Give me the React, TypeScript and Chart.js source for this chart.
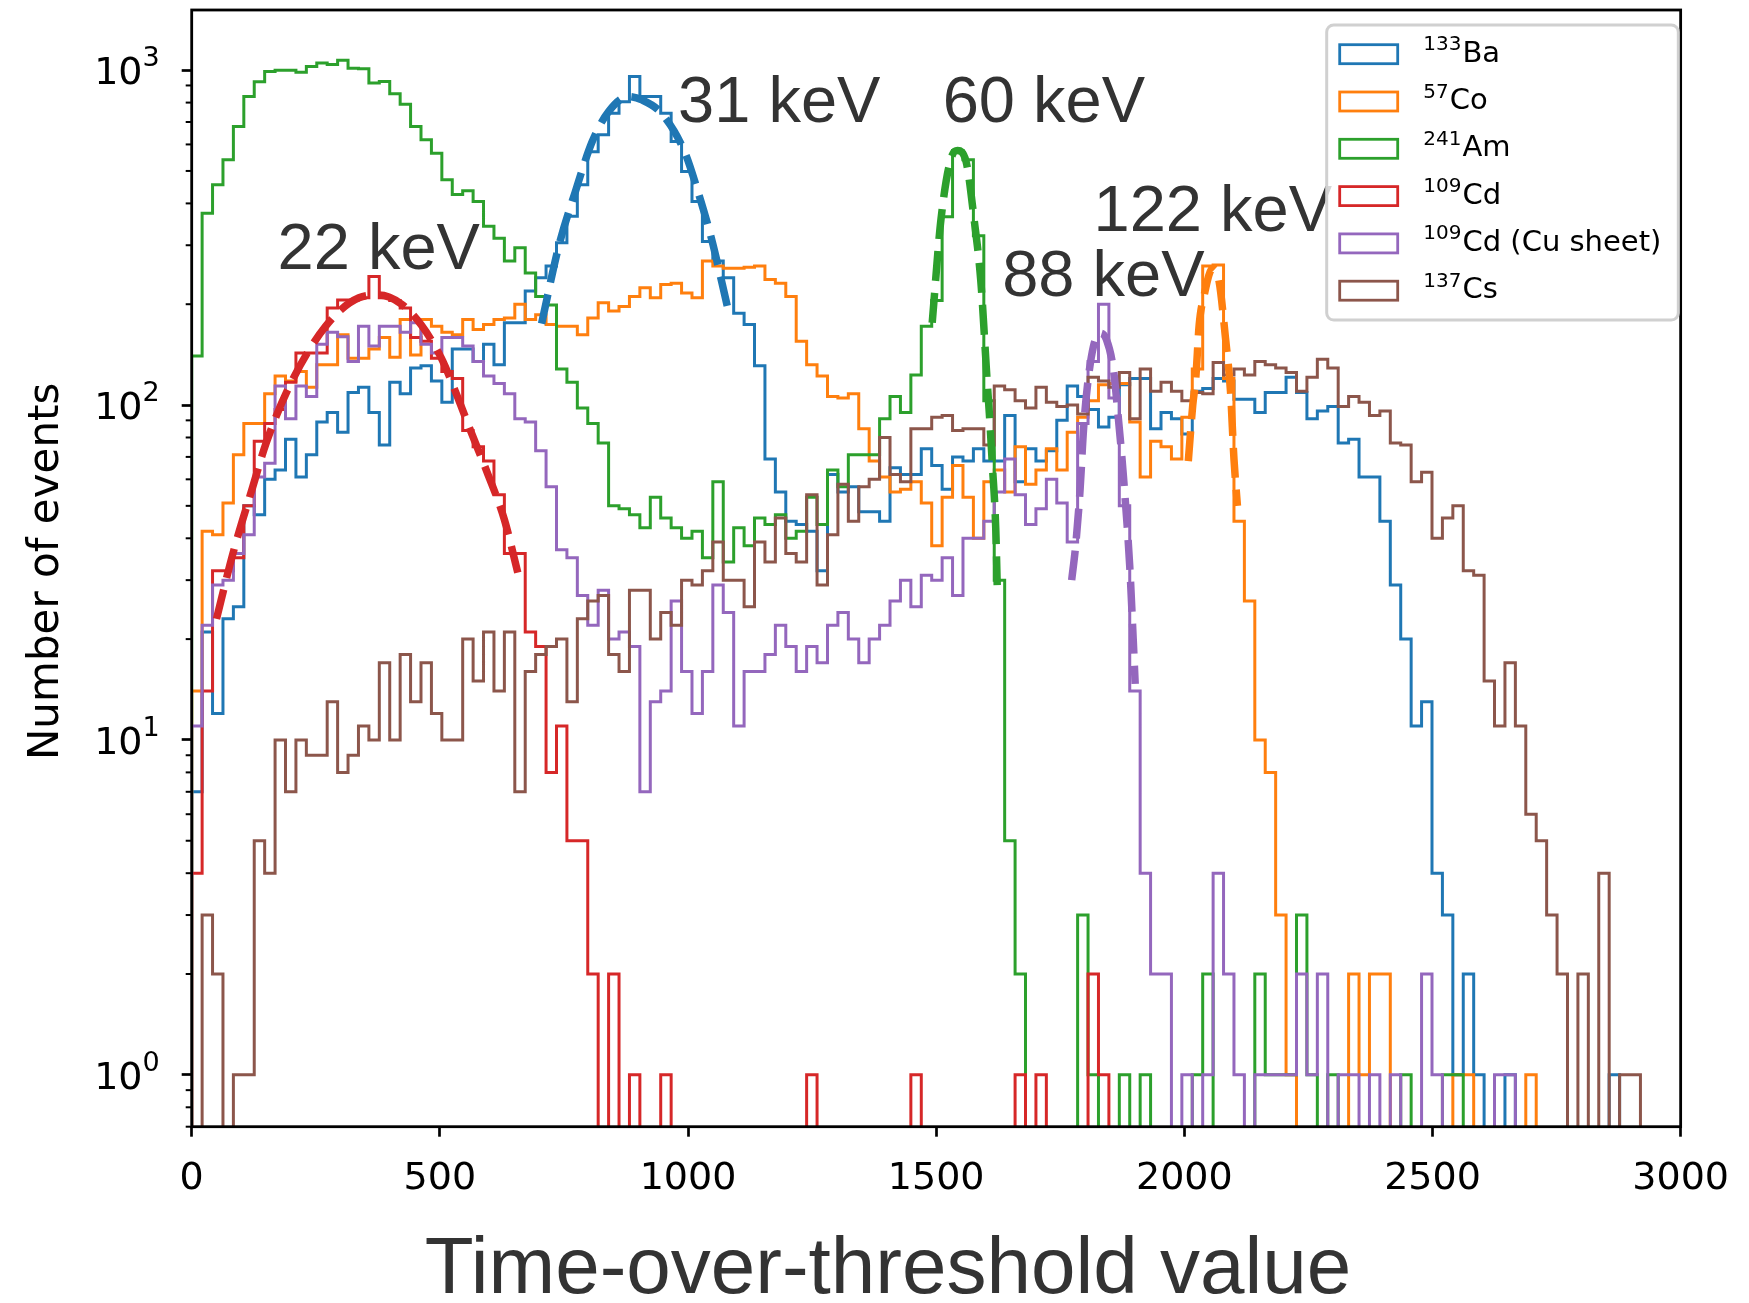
import React, { useEffect, useRef } from 'react';
import { Chart, registerables } from 'chart.js';

Chart.register(...registerables);

// ---------- data ----------
const BIN_WIDTH = 21; // time-over-threshold units per histogram bin (bins start at 0)

const ba133 = [7,21,12,23,25,50,47,60,64,79, 61,71,89,95,83,109,113,95,76,117, 108,129,131,118,102,147,147,135,152,132, 176,176,219,240,260,305,366,455,571,641, 743,805,957,834,834,743,612,498,405,308, 269,240,188,174,131,69,55,45,44,42, 32,62,55,57,48,48,45,65,62,62, 74,66,56,70,68,74,68,68,93,59, 74,68,73,90,114,106,97,86,92,115, 120,120,85,95,91,82,110,112,120,118, 104,104,95,109,109,121,109,91,96,99, 77,79,61,61,45,29,20,11,13,4, 3,1,2,1,0,0,1,0,0,0, 0,0,0,0,0,0,1,0,0,0];
const co57 = [14,42,41,51,71,88,88,108,122,118, 126,113,132,132,162,138,138,147,159,139, 180,141,180,172,165,162,180,168,174,180, 182,200,180,186,174,172,172,162,182,202, 191,197,211,224,209,229,231,216,209,269, 260,256,256,258,260,237,231,211,155,132, 122,106,105,108,85,68,61,55,56,59, 51,38,53,66,53,40,59,64,55,75, 58,64,74,64,83,92,103,115,116,116, 89,61,78,75,69,92,128,260,262,120, 45,26,10,8,3,1,0,0,0,0, 0,2,1,2,2,0,0,0,0,0, 0,1,1,0,0,0,0,0,1,0, 0,0,0,0,0,0,0,0,0,0];
const am241 = [140,374,455,540,679,834,924,990,1000,1000, 985,1025,1050,1040,1070,1013,1010,915,925,850, 791,679,620,565,471,425,436,405,342,315, 269,295,248,211,199,128,117,98,88,77, 50,49,47,43,53,46,43,40,42,35, 59,34,43,38,46,44,47,40,42,53, 44,64,57,71,71,71,91,106,95,123, 172,205,365,575,540,320,103,30,5,2, 0,0,0,0,0,3,1,0,0,1, 0,1,0,0,0,0,1,2,0,0, 0,0,2,1,1,1,3,1,0,1, 0,0,0,0,0,0,1,0,0,0, 1,1,0,0,0,0,0,0,0,0, 0,0,0,0,0,0,0,0,0,0];
const cd109 = [4,14,32,32,35,50,78,88,97,117, 143,143,143,195,206,206,209,242,209,205, 195,159,155,138,126,120,84,75,68,54, 36,36,21,19,8,11,5,5,2,0, 2,0,1,0,0,1,0,0,0,0, 0,0,0,0,0,0,0,0,0,1, 0,0,0,0,0,0,0,0,0,1, 0,0,0,0,0,0,0,0,0,1, 0,1,0,0,0,0,2,1,0,0, 0,0,0,0,0,0,0,0,0,0, 0,0,0,0,0,0,0,0,0,0, 0,0,0,0,0,0,0,0,0,0, 0,0,0,0,0,0,0,0,0,0, 0,0,0,0,0,0,0,0,0,0];
const cd109Cu = [11,22,29,30,36,41,61,67,114,91, 114,106,152,165,160,135,172,150,172,172, 165,176,152,143,159,159,150,135,122,116, 108,91,89,73,57,37,35,27,22,28, 20,21,19,7,13,14,26,16,12,16, 29,24,11,16,16,18,22,19,16,19, 17,22,24,20,17,20,22,26,30,25, 31,30,35,27,40,40,45,55,69,54, 44,49,60,51,39,88,135,200,105,50, 14,4,2,2,0,1,0,1,4,2, 1,0,1,1,1,1,2,1,2,0, 1,1,0,1,0,1,0,0,2,1, 0,0,0,0,0,1,1,0,0,0, 0,0,0,0,0,0,0,0,0,0];
const cs137 = [0,3,2,0,1,1,5,4,10,7, 10,9,9,13,8,9,11,10,17,10, 18,13,17,12,10,10,20,15,21,14, 21,7,16,18,19,20,13,23,26,27, 18,16,28,28,20,24,22,30,29,32, 39,30,30,25,39,34,46,36,34,54, 29,41,58,45,57,60,80,62,59,85, 85,92,93,84,85,85,76,114,111,103, 98,113,102,99,100,94,121,118,113,125, 91,128,110,117,110,103,109,108,134,123, 128,123,135,132,129,125,110,121,137,129, 99,106,102,93,96,77,76,59,63,40, 46,50,32,31,15,11,17,11,6,5, 3,2,0,2,0,4,0,1,1,0];

const seriesCounts = [ba133, co57, am241, cd109, cd109Cu, cs137];
const legendMass = ['133', '57', '241', '109', '109', '137'];
const legendName = ['Ba', 'Co', 'Am', 'Cd', 'Cd (Cu sheet)', 'Cs'];
const seriesColors = ['#1f77b4', '#ff7f0e', '#2ca02c', '#d62728', '#9467bd', '#8c564b'];

// Gaussian fit curves (dashed)
const fit22X = [50, 83, 123, 150, 197, 270, 337, 377, 423, 463, 503, 530, 563, 597, 630, 657];
const fit22Y = [23, 36, 57, 77, 114, 172, 209, 213, 200, 173, 138, 111, 83, 62, 45.5, 31.6];
const fit31X = [705, 740, 773, 807, 840, 880, 907, 947, 993, 1020, 1047, 1080];
const fit31Y = [175, 300, 434, 612, 752, 834, 815, 742, 571, 434, 315, 195];
const fit60X = [1492, 1510, 1533, 1543, 1560, 1577, 1590, 1603, 1607, 1613, 1620, 1623];
const fit60Y = [176, 362, 560, 575, 535, 353, 234, 116, 95, 67, 43, 29];
const fit88X = [1773, 1781, 1790, 1797, 1805, 1817, 1830, 1843, 1857, 1866, 1877, 1890, 1897, 1901];
const fit88Y = [30, 38, 56, 85, 115, 150, 164, 157, 128, 95, 62, 33, 20, 14.7];
const fit122X = [2008, 2017, 2023, 2030, 2040, 2057, 2070, 2083, 2093, 2100, 2107];
const fit122Y = [68, 100, 120, 174, 213, 256, 234, 158, 110, 69, 50];
const fitSets = [
  { xs: fit22X, ys: fit22Y, color: seriesColors[3] },
  { xs: fit31X, ys: fit31Y, color: seriesColors[0] },
  { xs: fit60X, ys: fit60Y, color: seriesColors[2] },
  { xs: fit88X, ys: fit88Y, color: seriesColors[4] },
  { xs: fit122X, ys: fit122Y, color: seriesColors[1] },
];

const peakLabels = ['22 keV', '31 keV', '60 keV', '88 keV', '122 keV'];
const peakLabelX = [173, 980, 1513, 1633, 1817];
const peakLabelY = [254, 702, 702, 211, 330];

const xTicks = [0, 500, 1000, 1500, 2000, 2500, 3000];
const yMajorTicks = [1, 10, 100, 1000];
const yTickExponents = ['0', '1', '2', '3'];

const X_TITLE = 'Time-over-threshold value';
const Y_TITLE = 'Number of events';

// ---------- helpers ----------
const FLOOR = 0.3; // empty bins drop below the axis
function histPoints(counts: number[]) {
  const pts: { x: number; y: number }[] = [{ x: 0, y: FLOOR }];
  counts.forEach((c, i) => pts.push({ x: i * BIN_WIDTH, y: c > 0 ? c : FLOOR }));
  pts.push({ x: counts.length * BIN_WIDTH, y: FLOOR });
  return pts;
}

const decorPlugin = {
  id: 'decor',
  afterDatasetsDraw(chart: any) {
    const { ctx, chartArea: a, scales } = chart;
    const xs = scales.x;
    const ys = scales.y;
    ctx.save();

    // frame
    ctx.strokeStyle = '#000';
    ctx.lineWidth = 2.8;
    ctx.strokeRect(a.left, a.top, a.right - a.left, a.bottom - a.top);

    // minor y ticks
    ctx.lineWidth = 2;
    for (let e = -1; e <= 3; e++) {
      for (let m = 2; m <= 9; m++) {
        const v = m * Math.pow(10, e);
        if (v < ys.min || v > ys.max) continue;
        const py = ys.getPixelForValue(v);
        ctx.beginPath();
        ctx.moveTo(a.left - 6, py);
        ctx.lineTo(a.left, py);
        ctx.stroke();
      }
    }

    // y tick labels 10^n
    ctx.fillStyle = '#000';
    ctx.textBaseline = 'alphabetic';
    yMajorTicks.forEach((v, i) => {
      const py = ys.getPixelForValue(v);
      ctx.font = '27px "DejaVu Sans"';
      const ew = ctx.measureText(yTickExponents[i]).width;
      ctx.font = '38px "DejaVu Sans"';
      const bw = ctx.measureText('10').width;
      const right = a.left - 32;
      ctx.textAlign = 'left';
      ctx.fillText('10', right - ew - bw, py + 14);
      ctx.font = '27px "DejaVu Sans"';
      ctx.fillText(yTickExponents[i], right - ew, py - 4);
    });

    // peak annotations
    ctx.fillStyle = '#333';
    ctx.font = '65px "Liberation Sans"';
    ctx.textAlign = 'left';
    peakLabels.forEach((t, i) => {
      ctx.fillText(t, xs.getPixelForValue(peakLabelX[i]), ys.getPixelForValue(peakLabelY[i]));
    });

    // legend
    const lx = 1326.7, ly = 25, lw = 351.6, lh = 295, r = 7;
    ctx.beginPath();
    ctx.moveTo(lx + r, ly);
    ctx.arcTo(lx + lw, ly, lx + lw, ly + lh, r);
    ctx.arcTo(lx + lw, ly + lh, lx, ly + lh, r);
    ctx.arcTo(lx, ly + lh, lx, ly, r);
    ctx.arcTo(lx, ly, lx + lw, ly, r);
    ctx.closePath();
    ctx.fillStyle = 'rgba(255,255,255,0.8)';
    ctx.fill();
    ctx.strokeStyle = '#d0d0d0';
    ctx.lineWidth = 3;
    ctx.stroke();
    legendName.forEach((name, i) => {
      const cy = 54.2 + i * 47.3;
      ctx.strokeStyle = seriesColors[i];
      ctx.lineWidth = 2.8;
      ctx.strokeRect(1339.7, cy - 9.5, 58, 19);
      ctx.fillStyle = '#000';
      ctx.font = '20px "DejaVu Sans"';
      ctx.fillText(legendMass[i], 1423.3, cy - 4);
      const mw = ctx.measureText(legendMass[i]).width;
      ctx.font = '29px "DejaVu Sans"';
      ctx.fillText(name, 1423.3 + mw + 1, cy + 7.5);
    });

    // axis titles
    ctx.fillStyle = '#000';
    ctx.font = '42px "DejaVu Sans"';
    ctx.textAlign = 'center';
    ctx.save();
    ctx.translate(47, (a.top + a.bottom) / 2 + 3);
    ctx.rotate(-Math.PI / 2);
    ctx.textBaseline = 'middle';
    ctx.fillText(Y_TITLE, 0, 0);
    ctx.restore();

    ctx.fillStyle = '#333';
    ctx.font = '80px "Liberation Sans"';
    ctx.textAlign = 'center';
    ctx.textBaseline = 'alphabetic';
    ctx.fillText(X_TITLE, 888, 1293);

    ctx.restore();
  },
};

export default function App() {
  const canvasRef = useRef<HTMLCanvasElement | null>(null);

  useEffect(() => {
    const canvas = canvasRef.current;
    if (!canvas) return;

    const histDatasets = seriesCounts.map((counts, i) => ({
      label: legendMass[i] + legendName[i],
      data: histPoints(counts),
      borderColor: seriesColors[i],
      backgroundColor: seriesColors[i],
      borderWidth: 3,
      stepped: true,
      fill: false,
      pointRadius: 0,
      order: 20 - i,
    }));
    const fitDatasets = fitSets.map((f, i) => ({
      label: 'fit' + i,
      data: f.xs.map((x, j) => ({ x, y: f.ys[j] })),
      borderColor: f.color,
      backgroundColor: f.color,
      borderWidth: 7.5,
      borderDash: [30, 12],
      cubicInterpolationMode: 'monotone',
      fill: false,
      pointRadius: 0,
      order: 1,
    }));

    const chart = new Chart(canvas, {
      type: 'line',
      data: { datasets: [...histDatasets, ...fitDatasets] as any },
      options: {
        responsive: false,
        animation: false,
        devicePixelRatio: 1,
        layout: { padding: { left: 0, right: 57.3, top: 10, bottom: 0 } },
        plugins: { legend: { display: false }, tooltip: { enabled: false } },
        scales: {
          x: {
            type: 'linear',
            min: 0,
            max: 3000,
            afterFit: (s: any) => { s.height = 176.3; },
            afterBuildTicks: (s: any) => { s.ticks = xTicks.map((v) => ({ value: v })); },
            ticks: {
              font: { family: 'DejaVu Sans', size: 38 },
              color: '#000',
              padding: 20,
              maxRotation: 0,
              autoSkip: false,
              callback: (v: any) => String(v),
            },
            grid: { drawOnChartArea: false, drawTicks: true, tickLength: 10, tickWidth: 2.7, tickColor: '#000' },
            border: { display: false },
          },
          y: {
            type: 'logarithmic',
            min: 0.71,
            max: 1512,
            afterFit: (s: any) => { s.width = 191.7; },
            afterBuildTicks: (s: any) => { s.ticks = yMajorTicks.map((v) => ({ value: v })); },
            ticks: { display: false },
            grid: { drawOnChartArea: false, drawTicks: true, tickLength: 10, tickWidth: 2.7, tickColor: '#000' },
            border: { display: false },
          },
        },
      } as any,
      plugins: [decorPlugin],
    });

    return () => chart.destroy();
  }, []);

  return (
    <div style={{ position: 'fixed', left: 0, top: 0, width: 1749, height: 1303, background: '#fff' }}>
      <canvas ref={canvasRef} width={1749} height={1303} style={{ width: 1749, height: 1303, display: 'block' }} />
    </div>
  );
}
